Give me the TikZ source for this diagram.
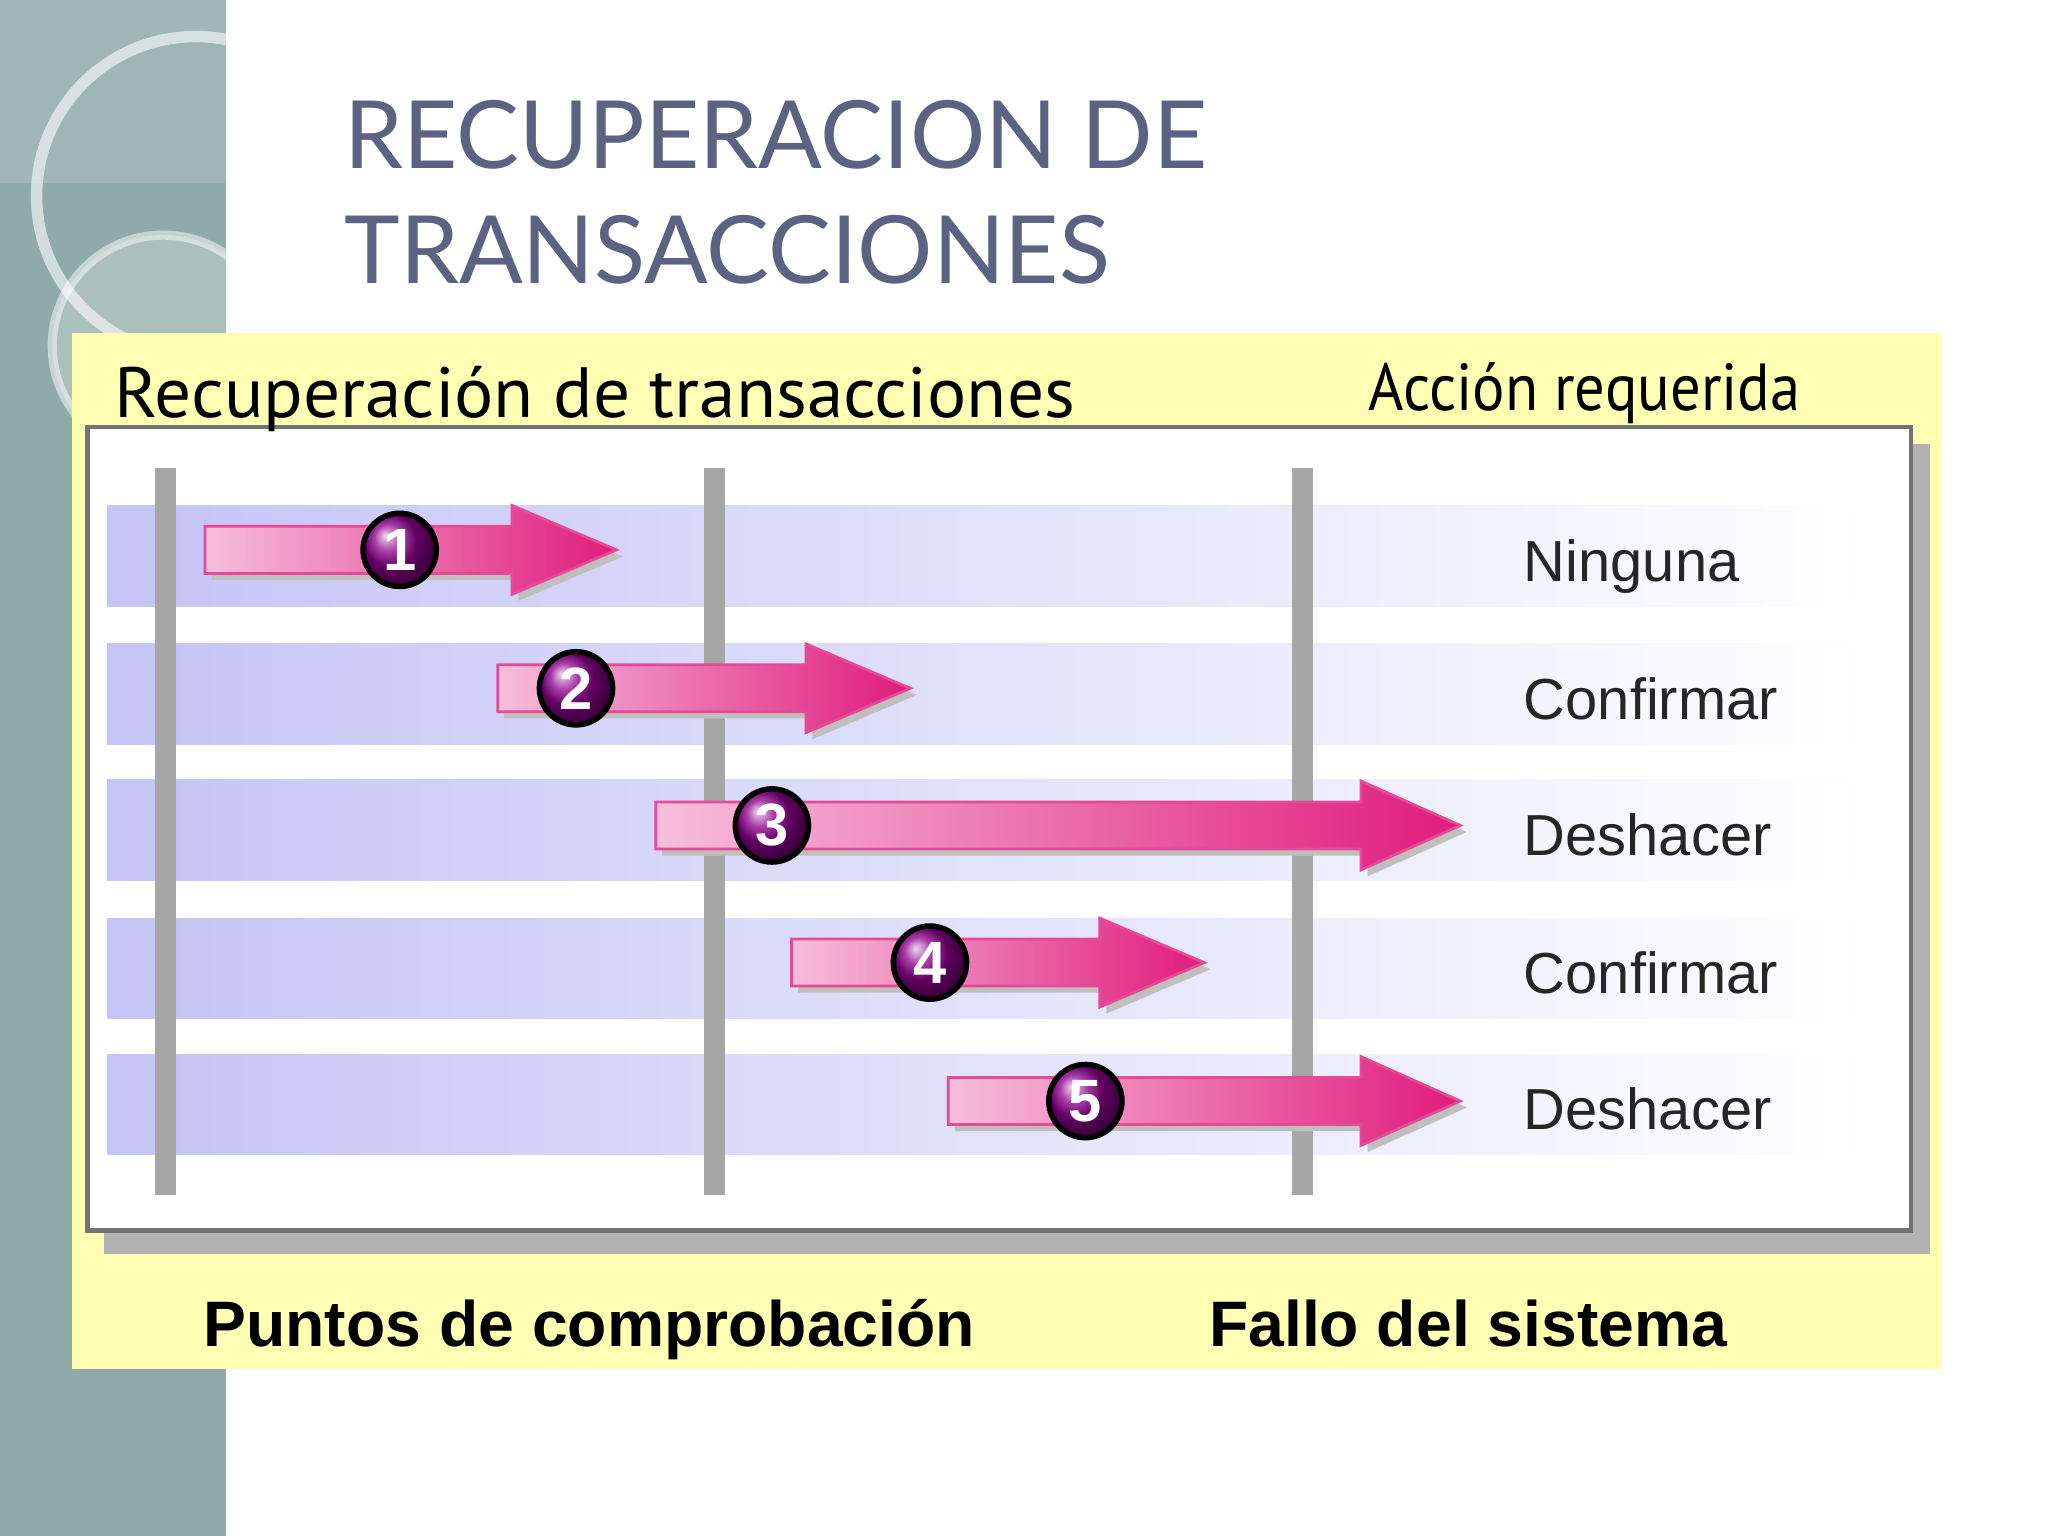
\documentclass[tikz,border=0pt]{standalone}
\usepackage{fontspec}
\setmainfont{Liberation Sans}
\newfontfamily\titlefont{Lato}
\newfontfamily\headfont{PT Sans}
\begin{document}
\begin{tikzpicture}[x=0.01cm,y=-0.01cm,
  band/.style={left color=bandc,right color=white,draw=none},
  vbar/.style={fill=barc,draw=none},
  num/.style={circle,draw=black,line width=1.2pt,shading=ball,ball color=violet!90!magenta,minimum size=0.56cm,inner sep=0pt,text=white,font=\bfseries\fontsize{13}{13}\selectfont},
  act/.style={anchor=base west,inner sep=0pt,font=\fontsize{12.6}{14}\selectfont,text=black!85},
  bottom/.style={anchor=base west,inner sep=0pt,font=\bfseries\fontsize{14}{15}\selectfont}]
\definecolor{bandc}{HTML}{C4C4F6}
\definecolor{barc}{HTML}{A6A6A6}
\definecolor{teal}{HTML}{8FAAA8}
\definecolor{ylw}{HTML}{FFFFB4}
\definecolor{pinkl}{HTML}{F6BEDC}
\definecolor{pinkd}{HTML}{E01C7C}
\definecolor{titlec}{HTML}{5B6282}
\useasboundingbox (0,0) rectangle (1568,1176);
\fill[white] (0,0) rectangle (1568,1176);
% left strip
\fill[teal] (0,0) rectangle (173,1176);
\begin{scope}
\clip (0,0) rectangle (173,1176);
\fill[white,opacity=0.15] (0,0) rectangle (173,140);
\draw[white,opacity=0.6,line width=2.5pt] (150,150) circle (122);
\fill[white,opacity=0.25] (125,265) circle (85);
\draw[white,opacity=0.5,line width=2pt] (125,265) circle (85);
\end{scope}
% title
\node[anchor=north west,align=left,text=titlec,inner sep=0pt,font=\titlefont\fontsize{20.5}{25}\selectfont] (title) at (263,76) {RECUPERACION DE\\TRANSACCIONES};
% yellow box
\fill[ylw] (55,255) rectangle (1487,1048);
% shadow and panel
\fill[black!30] (80,340) rectangle (1478,960);
\draw[black!55,fill=white,line width=1pt] (67,327) rectangle (1463,942);
\node[anchor=base west,inner sep=0pt,xscale=1.03,transform shape,font=\headfont\fontsize{15.5}{16}\selectfont] (h1) at (87,320) {Recuperación de transacciones};
\node[anchor=base west,inner sep=0pt,xscale=0.91,transform shape,font=\headfont\fontsize{14.5}{15}\selectfont] (h2) at (1047,314) {Acción requerida};
% bands
\foreach \y in {387,493,597,703,807}
  \shade[band] (82,\y) rectangle (1430,\y+77);
% bars
\foreach \x in {127,547,997}
  \fill[vbar] (\x-8,358) rectangle (\x+8,915);
% arrows
\foreach \a/\b/\c/\y/\cx/\n in {157/392/472/421/306/1,381/617/697/527/441/2,502/1042/1118/632/591/3,606/842/922/737/712/4,726/1042/1118/843/831/5}{
  \fill[black!25] (\a+5,\y-13) -- (\b+5,\y-13) -- (\b+5,\y-29) -- (\c+5,\y+5) -- (\b+5,\y+39) -- (\b+5,\y+23) -- (\a+5,\y+23) -- cycle;
  \shade[left color=pinkl,right color=pinkd,draw=pinkd!80,line width=0.6pt] (\a,\y-18) -- (\b,\y-18) -- (\b,\y-34) -- (\c,\y) -- (\b,\y+34) -- (\b,\y+18) -- (\a,\y+18) -- cycle;
  \node[num] (n\n) at (\cx,\y) {\n};
}
\node[act] (a1) at (1166,445) {Ninguna};
\node[act] (a2) at (1166,551) {Confirmar};
\node[act] (a3) at (1166,655) {Deshacer};
\node[act] (a4) at (1166,761) {Confirmar};
\node[act] (a5) at (1166,865) {Deshacer};
\node[bottom] (b1) at (155,1031) {Puntos de comprobación};
\node[bottom] (b2) at (925,1031) {Fallo del sistema};
\end{tikzpicture}
\end{document}
